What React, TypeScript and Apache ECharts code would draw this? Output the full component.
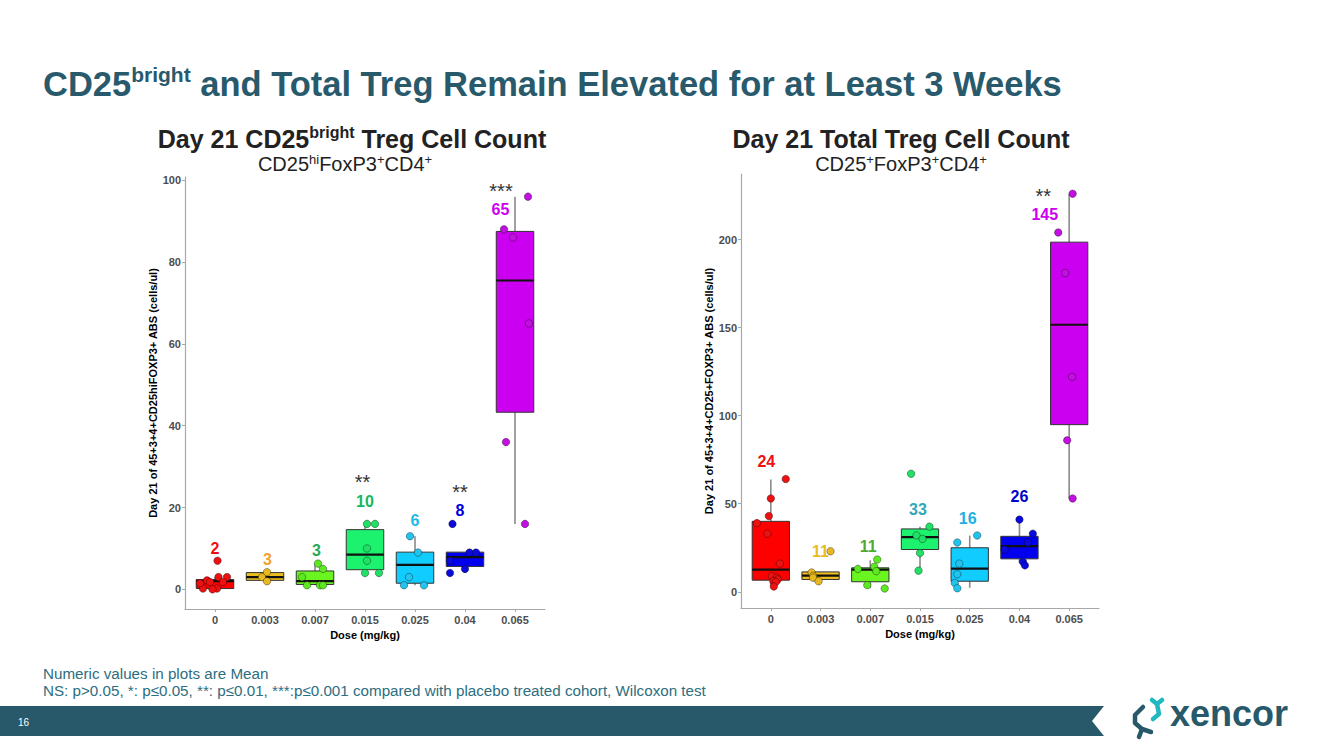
import React, { useEffect, useRef } from "react";
import * as echarts from "echarts";

const FONT = "'Liberation Sans', Arial, Helvetica, sans-serif";

const doseLabels = ["0", "0.003", "0.007", "0.015", "0.025", "0.04", "0.065"];
const boxColors = ["#FF0000", "#EDBE1C", "#6BF520", "#1DF26E", "#11CCFF", "#0000EE", "#CC00F0"];
const pointColors = ["#EE1111", "#E8B820", "#5EE822", "#22E066", "#22C4EE", "#0A0ADD", "#C210E0"];

// ---------- Left panel: CD25bright ----------
// [min, q1, median, q3, max]
const brightBoxStats = [
  [0, 0.2, 2.0, 2.4, 3],
  [2, 2.2, 3.0, 4.1, 4.2],
  [1, 1.2, 2.0, 4.5, 6.3],
  [4, 4.8, 8.5, 14.6, 16],
  [1, 1.5, 6.0, 9.1, 13],
  [4, 5.6, 7.9, 9.1, 9.1],
  [16, 43.3, 75.5, 87.5, 96],
];
const brightPointValues = [
  [7, 3, 3, 2.2, 1.8, 1.8, 0.2, 0.2, 1.5, 0],
  [4.2, 3, 2],
  [6.3, 5, 3, 1, 1, 1],
  [16, 16, 10, 7, 4, 4],
  [13, 9, 3, 1, 1],
  [16, 9, 9, 7, 5, 4],
  [96, 88, 86, 65, 36, 16],
];
const brightPointJitter = [
  [0.05, 0.07, 0.24, -0.16, -0.1, 0.16, -0.24, 0.04, -0.3, -0.05],
  [0.04, -0.06, 0.04],
  [0.06, 0.16, -0.26, -0.16, 0.1, 0.16],
  [0.04, 0.2, 0.04, 0.04, 0, 0.28],
  [-0.1, 0.06, -0.12, -0.22, 0.18],
  [-0.25, 0.09, 0.22, -0.3, 0, -0.3],
  [0.26, -0.22, -0.04, 0.28, -0.18, 0.2],
];
const brightMeanText = ["2", "3", "3", "10", "6", "8", "65"];
const brightMeanColors = ["#EE1111", "#F2A02A", "#2CA85A", "#14B85A", "#22B8EE", "#0000DD", "#CC00EE"];
const brightMeanY = [10, 7.3, 9.5, 21.6, 16.9, 19.3, 92.8];
const brightMeanDx = [0, 0.05, 0.03, 0, 0, -0.1, -0.29];
const brightStarGroup = [3, 5, 6];
const brightStarText = ["**", "**", "***"];
const brightStarY = [26.2, 23.9, 97.4];
const brightStarDx = [-0.05, -0.1, -0.28];
const brightYTicks = [0, 20, 40, 60, 80, 100];

// ---------- Right panel: Total Treg ----------
const totalBoxStats = [
  [3.2, 6.6, 12.6, 40, 63.7],
  [6, 7, 9.2, 11.3, 11.3],
  [2, 5.7, 12.6, 13.6, 17.9],
  [11.7, 24, 31, 35.7, 36.9],
  [2.3, 6, 13.2, 25, 31.9],
  [16.6, 18.7, 25.9, 31.5, 41],
  [52.9, 94.9, 151.6, 198.5, 225.9],
];
const totalPointValues = [
  [64, 53, 43, 39, 33, 16, 9, 8, 7, 6, 5.5, 3],
  [23, 11, 9, 8, 6],
  [18.3, 14.2, 13, 11.7, 3.8, 1.9],
  [67, 37, 32, 30, 22, 12],
  [32, 28, 16, 10, 5, 2],
  [41, 33, 28, 24, 17, 15],
  [226, 204, 181, 122, 86, 53],
];
const totalPointJitter = [
  [0.3, 0, -0.04, -0.28, -0.07, 0.18, 0.02, 0.12, 0.14, 0.05, 0.1, 0.06],
  [0.2, -0.18, -0.15, -0.15, -0.04],
  [0.14, 0.08, -0.25, 0.12, -0.06, 0.29],
  [-0.18, 0.19, -0.07, 0.05, 0, -0.03],
  [0.15, -0.25, -0.21, -0.25, -0.3, -0.25],
  [0, 0.27, 0.17, -0.3, 0.07, 0.11],
  [0.07, -0.22, -0.08, 0.06, -0.04, 0.07],
];
const totalMeanText = ["24", "11", "11", "33", "16", "26", "145"];
const totalMeanColors = ["#EE1111", "#E8BC20", "#52A832", "#30A8B8", "#22B0E0", "#0000CC", "#CC00EE"];
const totalMeanY = [73.7, 23, 25.9, 46.7, 41.6, 53.9, 214];
const totalMeanDx = [-0.09, 0, -0.04, -0.04, -0.04, 0, -0.49];
const totalStarGroup = [6];
const totalStarText = ["**"];
const totalStarY = [224.6];
const totalStarDx = [-0.52];
const totalYTicks = [0, 50, 100, 150, 200];

const xTickValues = [0, 1, 2, 3, 4, 5, 6];

function boxRenderer(params: any, api: any) {
  const i = api.value(0);
  const lo = api.value(1);
  const q1 = api.value(2);
  const md = api.value(3);
  const q3 = api.value(4);
  const hi = api.value(5);
  const hw = 0.375;
  const tl = api.coord([i - hw, q3]);
  const br = api.coord([i + hw, q1]);
  const cHi = api.coord([i, hi]);
  const cQ3 = api.coord([i, q3]);
  const cQ1 = api.coord([i, q1]);
  const cLo = api.coord([i, lo]);
  const mL = api.coord([i - hw, md]);
  const mR = api.coord([i + hw, md]);
  const whisker = { stroke: "#8a8a8a", lineWidth: 1.6 };
  return {
    type: "group",
    children: [
      { type: "line", shape: { x1: cHi[0], y1: cHi[1], x2: cQ3[0], y2: cQ3[1] }, style: whisker },
      { type: "line", shape: { x1: cQ1[0], y1: cQ1[1], x2: cLo[0], y2: cLo[1] }, style: whisker },
      {
        type: "rect",
        shape: { x: tl[0], y: tl[1], width: br[0] - tl[0], height: br[1] - tl[1] },
        style: { fill: boxColors[i], stroke: "#333333", lineWidth: 1 },
      },
      { type: "line", shape: { x1: mL[0], y1: mL[1], x2: mR[0], y2: mR[1] }, style: { stroke: "#111111", lineWidth: 2.2 } },
    ],
  };
}

function panelSeries(
  idx: number,
  boxStats: number[][],
  pointValues: number[][],
  pointJitter: number[][],
  meanText: string[],
  meanColors: string[],
  meanY: number[],
  meanDx: number[],
  starGroup: number[],
  starText: string[],
  starY: number[],
  starDx: number[]
) {
  const points: any[] = [];
  pointValues.forEach((vals, g) => {
    vals.forEach((v, k) => {
      points.push({ value: [g + pointJitter[g][k], v], itemStyle: { color: pointColors[g] } });
    });
  });
  const labels: { x: number; y: number; text: string; color: string; star: boolean }[] = [];
  meanText.forEach((t, g) => labels.push({ x: g + meanDx[g], y: meanY[g], text: t, color: meanColors[g], star: false }));
  starGroup.forEach((g, k) => labels.push({ x: g + starDx[k], y: starY[k], text: starText[k], color: "#333333", star: true }));

  return [
    {
      type: "custom",
      xAxisIndex: idx,
      yAxisIndex: idx,
      renderItem: boxRenderer,
      encode: { x: 0, y: [1, 2, 3, 4, 5] },
      data: boxStats.map((s, i) => [i, ...s]),
      z: 2,
    },
    {
      type: "scatter",
      xAxisIndex: idx,
      yAxisIndex: idx,
      symbolSize: 7.5,
      itemStyle: { borderColor: "rgba(0,0,0,0.38)", borderWidth: 0.9, opacity: 1 },
      data: points,
      z: 3,
    },
    {
      type: "custom",
      xAxisIndex: idx,
      yAxisIndex: idx,
      clip: false,
      renderItem: (params: any, api: any) => {
        const lab = labels[params.dataIndex];
        const p = api.coord([api.value(0), api.value(1)]);
        return {
          type: "text",
          x: p[0],
          y: p[1],
          style: {
            text: lab.text,
            fill: lab.color,
            font: lab.star ? `normal 20px ${FONT}` : `bold 16px ${FONT}`,
            align: "center",
            verticalAlign: "middle",
          },
        };
      },
      encode: { x: 0, y: 1 },
      data: labels.map((l) => [l.x, l.y]),
      z: 4,
    },
  ];
}

function xAxisDef(idx: number) {
  return {
    type: "value",
    gridIndex: idx,
    min: -0.6,
    max: 6.6,
    splitLine: { show: false },
    axisLine: { show: true, onZero: false, lineStyle: { color: "#a8a8a8", width: 1.2 } },
    axisTick: { show: true, customValues: xTickValues, length: 3, lineStyle: { color: "#a8a8a8" } },
    axisLabel: {
      customValues: xTickValues,
      formatter: (v: number) => doseLabels[Math.round(v)] ?? "",
      color: "#4d4d4d",
      fontWeight: "bold",
      fontSize: 11,
      fontFamily: FONT,
      margin: 5,
    },
    name: "Dose (mg/kg)",
    nameLocation: "middle",
    nameGap: 17,
    nameTextStyle: { fontWeight: "bold", fontSize: 11, color: "#000", fontFamily: FONT },
  };
}

function yAxisDef(idx: number, min: number, max: number, ticks: number[], name: string) {
  return {
    type: "value",
    gridIndex: idx,
    min,
    max,
    splitLine: { show: false },
    axisLine: { show: true, onZero: false, lineStyle: { color: "#a8a8a8", width: 1.2 } },
    axisTick: { show: true, customValues: ticks, length: 3, lineStyle: { color: "#a8a8a8" } },
    axisLabel: {
      customValues: ticks,
      color: "#4d4d4d",
      fontWeight: "bold",
      fontSize: 11,
      fontFamily: FONT,
      margin: 4,
    },
    name,
    nameLocation: "middle",
    nameGap: 27,
    nameTextStyle: { fontWeight: "bold", fontSize: 11, color: "#000", fontFamily: FONT },
  };
}

function buildOption() {
  const titleRich = {
    b: { fontSize: 34.5, fontWeight: "bold", fontFamily: FONT, fill: "#285A6C", lineHeight: 40 },
    s: { fontSize: 21, fontWeight: "bold", fontFamily: FONT, fill: "#285A6C", lineHeight: 23, verticalAlign: "top" },
  };
  const chartTitleRich = {
    b: { fontSize: 25, fontWeight: "bold", fontFamily: FONT, fill: "#222222", lineHeight: 29 },
    s: { fontSize: 16, fontWeight: "bold", fontFamily: FONT, fill: "#222222", lineHeight: 17, verticalAlign: "top" },
  };
  const subRich = {
    n: { fontSize: 20, fontFamily: FONT, fill: "#222222", lineHeight: 23 },
    s: { fontSize: 13, fontFamily: FONT, fill: "#222222", lineHeight: 13, verticalAlign: "top" },
  };
  const teal = "#27596B";
  return {
    animation: false,
    backgroundColor: "#ffffff",
    textStyle: { fontFamily: FONT },
    grid: [
      { left: 185, top: 177, width: 360, height: 432 },
      { left: 741, top: 174, width: 358, height: 434 },
    ],
    xAxis: [xAxisDef(0), xAxisDef(1)],
    yAxis: [
      yAxisDef(0, -4.8, 100.8, brightYTicks, "Day 21 of 45+3+4+CD25hiFOXP3+ ABS (cells/ul)"),
      yAxisDef(1, -9.2, 237.2, totalYTicks, "Day 21 of 45+3+4+CD25+FOXP3+ ABS (cells/ul)"),
    ],
    series: [
      ...panelSeries(0, brightBoxStats, brightPointValues, brightPointJitter, brightMeanText, brightMeanColors, brightMeanY, brightMeanDx, brightStarGroup, brightStarText, brightStarY, brightStarDx),
      ...panelSeries(1, totalBoxStats, totalPointValues, totalPointJitter, totalMeanText, totalMeanColors, totalMeanY, totalMeanDx, totalStarGroup, totalStarText, totalStarY, totalStarDx),
    ],
    graphic: [
      {
        type: "text",
        x: 43,
        y: 84,
        style: {
          text: "{b|CD25}{s|bright}{b| and Total Treg Remain Elevated for at Least 3 Weeks}",
          rich: titleRich,
          align: "left",
          verticalAlign: "middle",
        },
      },
      {
        type: "text",
        x: 352,
        y: 139,
        style: { text: "{b|Day 21 CD25}{s|bright}{b| Treg Cell Count}", rich: chartTitleRich, align: "center", verticalAlign: "middle" },
      },
      {
        type: "text",
        x: 345,
        y: 164,
        style: { text: "{n|CD25}{s|hi}{n|FoxP3}{s|+}{n|CD4}{s|+}", rich: subRich, align: "center", verticalAlign: "middle" },
      },
      {
        type: "text",
        x: 901,
        y: 139,
        style: { text: "{b|Day 21 Total Treg Cell Count}", rich: chartTitleRich, align: "center", verticalAlign: "middle" },
      },
      {
        type: "text",
        x: 901,
        y: 164,
        style: { text: "{n|CD25}{s|+}{n|FoxP3}{s|+}{n|CD4}{s|+}", rich: subRich, align: "center", verticalAlign: "middle" },
      },
      {
        type: "text",
        x: 43,
        y: 673,
        style: { text: "Numeric values in plots are Mean", fill: "#2D6E80", font: `15.2px ${FONT}`, align: "left", verticalAlign: "middle" },
      },
      {
        type: "text",
        x: 43,
        y: 690,
        style: {
          text: "NS: p>0.05, *: p≤0.05, **: p≤0.01, ***:p≤0.001 compared with placebo treated cohort, Wilcoxon test",
          fill: "#2D6E80",
          font: `15.2px ${FONT}`,
          align: "left",
          verticalAlign: "middle",
        },
      },
      {
        type: "polygon",
        shape: { points: [[0, 706], [1104, 706], [1092, 721], [1104, 736], [0, 736]] },
        style: { fill: teal },
      },
      {
        type: "text",
        x: 18,
        y: 722,
        style: { text: "16", fill: "#ffffff", font: `10px ${FONT}`, align: "left", verticalAlign: "middle" },
      },
      {
        type: "polyline",
        shape: { points: [[1143, 707], [1135, 715], [1135, 723], [1142, 729], [1151, 732]] },
        style: { stroke: teal, lineWidth: 4.5, fill: null, lineJoin: "round", lineCap: "round" },
      },
      {
        type: "line",
        shape: { x1: 1142, y1: 729, x2: 1139, y2: 737 },
        style: { stroke: teal, lineWidth: 4.5, lineCap: "round" },
      },
      {
        type: "polyline",
        shape: { points: [[1152, 700], [1157, 704], [1159, 714], [1153, 719]] },
        style: { stroke: "#22B8C0", lineWidth: 4.5, fill: null, lineJoin: "round", lineCap: "round" },
      },
      {
        type: "line",
        shape: { x1: 1157, y1: 704, x2: 1162, y2: 700 },
        style: { stroke: "#22B8C0", lineWidth: 4.5, lineCap: "round" },
      },
      {
        type: "text",
        x: 1170,
        y: 713,
        style: { text: "xencor", fill: teal, font: `bold 36px ${FONT}`, align: "left", verticalAlign: "middle" },
      },
    ],
  };
}

export default function App() {
  const ref = useRef<HTMLDivElement>(null);
  useEffect(() => {
    document.body.style.margin = "0";
    if (!ref.current) return;
    const chart = echarts.init(ref.current, undefined, { renderer: "svg" });
    chart.setOption(buildOption() as any);
    return () => chart.dispose();
  }, []);
  return <div ref={ref} style={{ width: 1333, height: 749, position: "absolute", left: 0, top: 0 }} />;
}
